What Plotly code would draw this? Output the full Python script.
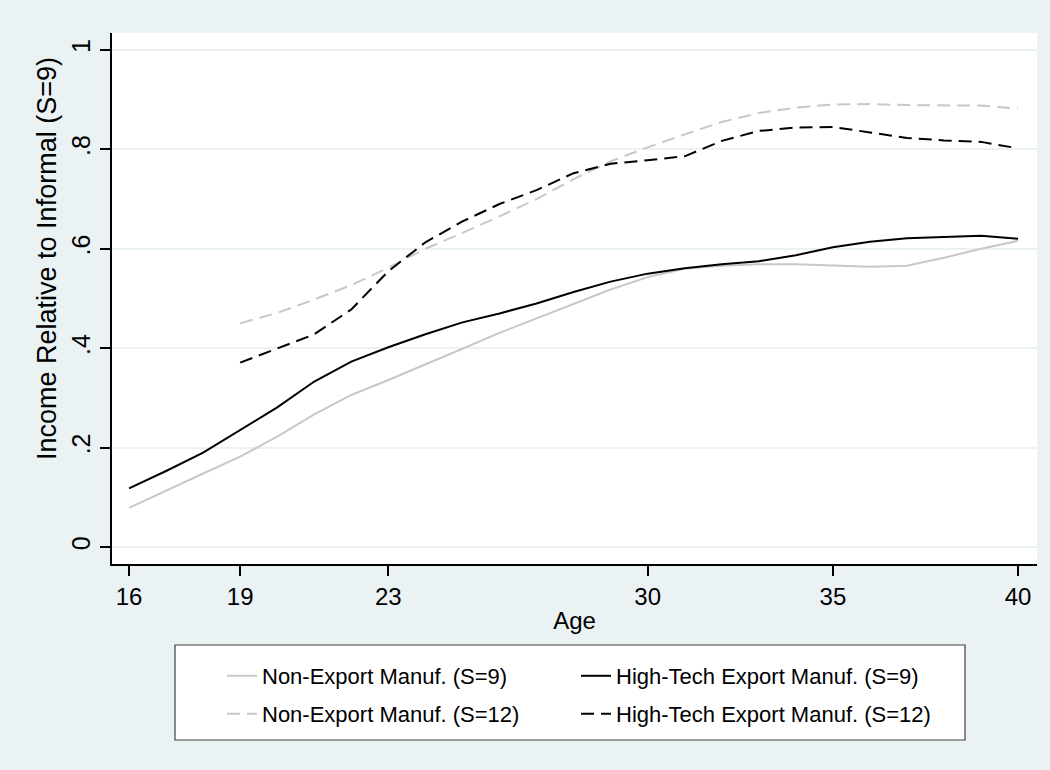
import plotly.graph_objects as go

ages_s9 = list(range(16, 41))
ages_s12 = list(range(19, 41))

nonexport_s9 = [0.079, 0.114, 0.148, 0.182, 0.222, 0.267, 0.306, 0.336, 0.367, 0.399,
                0.431, 0.460, 0.490, 0.518, 0.543, 0.560, 0.566, 0.569, 0.569, 0.567,
                0.564, 0.566, 0.582, 0.600, 0.616]
hightech_s9 = [0.118, 0.153, 0.190, 0.235, 0.281, 0.333, 0.373, 0.402, 0.428, 0.452,
               0.470, 0.490, 0.513, 0.534, 0.550, 0.561, 0.569, 0.575, 0.587, 0.603,
               0.614, 0.621, 0.624, 0.626, 0.620]
nonexport_s12 = [0.450, 0.471, 0.498, 0.527, 0.562, 0.600, 0.632, 0.665, 0.700, 0.740,
                 0.776, 0.804, 0.830, 0.855, 0.873, 0.884, 0.890, 0.891, 0.889, 0.888,
                 0.888, 0.882]
hightech_s12 = [0.371, 0.400, 0.428, 0.478, 0.555, 0.613, 0.655, 0.690, 0.718, 0.752,
                0.771, 0.778, 0.786, 0.817, 0.837, 0.844, 0.845, 0.834, 0.823, 0.818,
                0.815, 0.802]

x_ticks = [16, 19, 23, 30, 35, 40]
y_ticks = [0, 0.2, 0.4, 0.6, 0.8, 1]
y_tick_text = ["0", ".2", ".4", ".6", ".8", "1"]

names = ["Non-Export Manuf. (S=9)", "High-Tech Export Manuf. (S=9)",
         "Non-Export Manuf. (S=12)", "High-Tech Export Manuf. (S=12)"]

GRAY = "#C8C8C8"
BG = "#EAF2F3"
FONT = "Liberation Sans, Arial, sans-serif"
DASH = "13px,7px"

fig = go.Figure()
fig.add_trace(go.Scatter(x=ages_s9, y=nonexport_s9, mode="lines", name=names[0],
                         line=dict(color=GRAY, width=2), legend="legend"))
fig.add_trace(go.Scatter(x=ages_s9, y=hightech_s9, mode="lines", name=names[1],
                         line=dict(color="black", width=2), legend="legend"))
fig.add_trace(go.Scatter(x=ages_s12, y=nonexport_s12, mode="lines", name=names[2],
                         line=dict(color=GRAY, width=2, dash=DASH), legend="legend2"))
fig.add_trace(go.Scatter(x=ages_s12, y=hightech_s12, mode="lines", name=names[3],
                         line=dict(color="black", width=2, dash=DASH), legend="legend2"))

# plot area in pixels: x 112..1037, y 33..564
PL, PR, PT, PB = 112, 1037, 33, 564
PW, PH = PR - PL, PB - PT


def px_x(p):
    return (p - PL) / PW


def px_y(p):
    return (PB - p) / PH


leg_common = dict(
    orientation="h", xanchor="left", yanchor="middle",
    bgcolor="rgba(0,0,0,0)", borderwidth=0,
    font=dict(size=22, family=FONT, color="black"), entrywidth=309,
    traceorder="normal",
)

fig.update_layout(
    width=1050, height=770,
    paper_bgcolor=BG, plot_bgcolor="white",
    margin=dict(l=PL, r=1050 - PR, t=PT, b=770 - PB),
    font=dict(family=FONT, color="black", size=22),
    showlegend=True,
    legend=dict(x=px_x(222), y=px_y(676), **leg_common),
    legend2=dict(x=px_x(222), y=px_y(714), **leg_common),
    shapes=[dict(type="rect", xref="paper", yref="paper",
                 x0=px_x(175), x1=px_x(965), y0=px_y(645), y1=px_y(740),
                 fillcolor="white", line=dict(color="#404040", width=1.2),
                 layer="above")],
    annotations=[dict(text="Income Relative to Informal (S=9)", xref="paper", yref="paper",
                      x=px_x(47), y=px_y(259), xanchor="center", yanchor="middle",
                      textangle=-90, showarrow=False,
                      font=dict(size=27, family=FONT, color="black"))],
)
fig.update_xaxes(
    range=[15.54, 40.51], tickmode="array", tickvals=x_ticks,
    ticks="outside", ticklen=10, tickcolor="black", tickwidth=1.5,
    showline=True, linecolor="black", linewidth=1.5, showgrid=False, zeroline=False,
    tickfont=dict(size=24), title=dict(text="Age", font=dict(size=24), standoff=4),
)
fig.update_yaxes(
    range=[-0.034, 1.034], tickmode="array", tickvals=y_ticks, ticktext=y_tick_text,
    tickangle=-90, ticks="outside", ticklen=10, tickcolor="black", tickwidth=1.5,
    showline=True, linecolor="black", linewidth=1.5,
    showgrid=True, gridcolor=BG, gridwidth=2, zeroline=False,
    tickfont=dict(size=25),
)

fig.write_html("out.html")
